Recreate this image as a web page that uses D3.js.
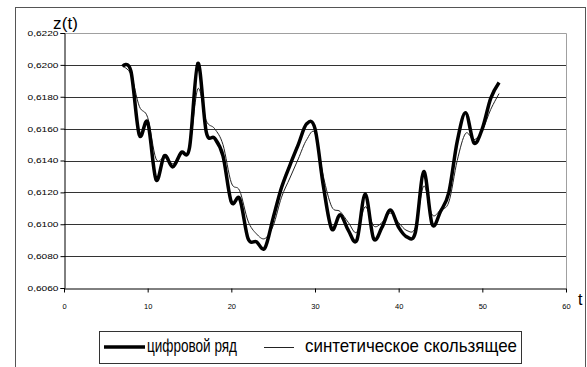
<!DOCTYPE html>
<html lang="ru">
<head>
    <meta charset="UTF-8">
    <title>z(t)</title>
    <script src="https://cdnjs.cloudflare.com/ajax/libs/d3/7.8.5/d3.min.js"></script>
    <style>
        body { margin: 0; background: #fff; }
        svg { display: block; font-family: Arial, "Liberation Sans", sans-serif; }
    </style>
</head>
<body>
    <svg width="587" height="367"></svg>
    <script>
        "use strict";

        // t values and the two series
        const tValues = [7, 8, 9, 10, 11, 12, 13, 14, 15, 16, 17, 18, 19, 20, 21, 22, 23, 24, 25, 26,
            27, 28, 29, 30, 31, 32, 33, 34, 35, 36, 37, 38, 39, 40, 41, 42, 43, 44, 45, 46, 47, 48, 49, 50, 51, 52];
        const digitalSeries = [0.6199, 0.6196, 0.6156, 0.6164, 0.6128, 0.6143, 0.6136, 0.6145, 0.6148, 0.6201,
            0.6158, 0.6154, 0.6143, 0.6114, 0.6116, 0.6091, 0.6089, 0.6085, 0.6104, 0.6123,
            0.6137, 0.6150, 0.6163, 0.6160, 0.6124, 0.6097, 0.6106, 0.6096, 0.6090, 0.6119,
            0.6091, 0.6098, 0.6109, 0.6098, 0.6092, 0.6095, 0.6133, 0.6100, 0.6108, 0.6120,
            0.6152, 0.6170, 0.6151, 0.6160, 0.6179, 0.6189];
        const movingSeries = [0.6199, 0.6194, 0.6174, 0.6167, 0.6141, 0.6142, 0.6138, 0.6144, 0.6148, 0.6185,
            0.6165, 0.6160, 0.6150, 0.6126, 0.6121, 0.6102, 0.6094, 0.6091, 0.6099, 0.6117,
            0.6129, 0.6141, 0.6153, 0.6157, 0.6130, 0.6111, 0.6108, 0.6101, 0.6095, 0.6111,
            0.6099, 0.6101, 0.6107, 0.6101, 0.6096, 0.6098, 0.6124, 0.6106, 0.6109, 0.6114,
            0.6140, 0.6157, 0.6153, 0.6159, 0.6172, 0.6182];
        const xTicks = [0, 10, 20, 30, 40, 50, 60];
        const yTicks = [0.606, 0.608, 0.610, 0.612, 0.614, 0.616, 0.618, 0.620, 0.622];
        const seriesNames = ["цифровой ряд", "синтетическое скользящее"];

        const svg = d3.select("svg");
        const plotLeft = 64, plotRight = 566, plotTop = 33, plotBottom = 288;

        const x = d3.scaleLinear().domain([0, 60]).range([plotLeft, plotRight]);
        const y = d3.scaleLinear().domain([0.606, 0.622]).range([plotBottom, plotTop]);

        // outer chart border
        svg.append("rect")
            .attr("x", 15.5).attr("y", 7.5)
            .attr("width", 570).attr("height", 380)
            .attr("fill", "none").attr("stroke", "#555");

        // gridlines
        svg.append("g")
            .selectAll("line")
            .data(yTicks.slice(1, -1))
            .enter()
            .append("line")
            .attr("x1", plotLeft).attr("x2", plotRight)
            .attr("y1", d => Math.round(y(d)) + 0.5)
            .attr("y2", d => Math.round(y(d)) + 0.5)
            .attr("stroke", "#333");

        // plot area border (grey)
        svg.append("path")
            .attr("d", `M${plotLeft},${plotTop + 0.5}H${plotRight + 0.5}V${plotBottom}`)
            .attr("fill", "none").attr("stroke", "#a0a0a0");

        const fmt = d => d.toFixed(4).replace(".", ",");

        const yAxis = svg.append("g")
            .attr("transform", `translate(${plotLeft + 0.5},0)`)
            .call(d3.axisLeft(y).tickValues(yTicks).tickSize(4).tickPadding(2).tickFormat(fmt));
        yAxis.select(".domain").attr("stroke", "#000");
        yAxis.selectAll(".tick line").attr("stroke", "#000");
        yAxis.selectAll("text")
            .attr("font-size", 7.5)
            .attr("font-family", "Arial, 'Liberation Sans', sans-serif")
            .attr("fill", "#000")
            .attr("textLength", 31)
            .attr("lengthAdjust", "spacingAndGlyphs");

        const xAxis = svg.append("g")
            .attr("transform", `translate(0,${plotBottom + 0.5})`)
            .call(d3.axisBottom(x).tickValues(xTicks).tickSize(4).tickPadding(11).tickSizeOuter(0));
        xAxis.select(".domain").attr("stroke", "#000");
        xAxis.selectAll(".tick line").attr("stroke", "#000");
        xAxis.selectAll("text")
            .attr("font-size", 7.5)
            .attr("font-family", "Arial, 'Liberation Sans', sans-serif")
            .attr("fill", "#000");

        // axis titles
        svg.append("text")
            .attr("x", 53).attr("y", 29)
            .attr("font-size", 17)
            .attr("textLength", 25)
            .text("z(t)");
        svg.append("text")
            .attr("x", 578).attr("y", 305)
            .attr("font-size", 16)
            .text("t");

        const line = values => d3.line()
            .x((d, i) => x(tValues[i]))
            .y(d => y(d))
            .curve(d3.curveCardinal.tension(0))(values);

        svg.append("path")
            .attr("d", line(movingSeries))
            .attr("fill", "none").attr("stroke", "#222").attr("stroke-width", 1);
        svg.append("path")
            .attr("d", line(digitalSeries))
            .attr("fill", "none").attr("stroke", "#000").attr("stroke-width", 3.5)
            .attr("stroke-linejoin", "round");

        // legend
        const legend = svg.append("g");
        legend.append("rect")
            .attr("x", 99.5).attr("y", 331.5)
            .attr("width", 422).attr("height", 32)
            .attr("fill", "#fff").attr("stroke", "#333");
        legend.append("line")
            .attr("x1", 104).attr("x2", 145).attr("y1", 347).attr("y2", 347)
            .attr("stroke", "#000").attr("stroke-width", 3.5);
        legend.append("text")
            .attr("x", 147).attr("y", 352)
            .attr("font-size", 19)
            .attr("textLength", 90).attr("lengthAdjust", "spacingAndGlyphs")
            .text(seriesNames[0]);
        legend.append("line")
            .attr("x1", 264).attr("x2", 294).attr("y1", 347.5).attr("y2", 347.5)
            .attr("stroke", "#222").attr("stroke-width", 1);
        legend.append("text")
            .attr("x", 305).attr("y", 352)
            .attr("font-size", 19)
            .attr("textLength", 212).attr("lengthAdjust", "spacingAndGlyphs")
            .text(seriesNames[1]);
    </script>
</body>
</html>
